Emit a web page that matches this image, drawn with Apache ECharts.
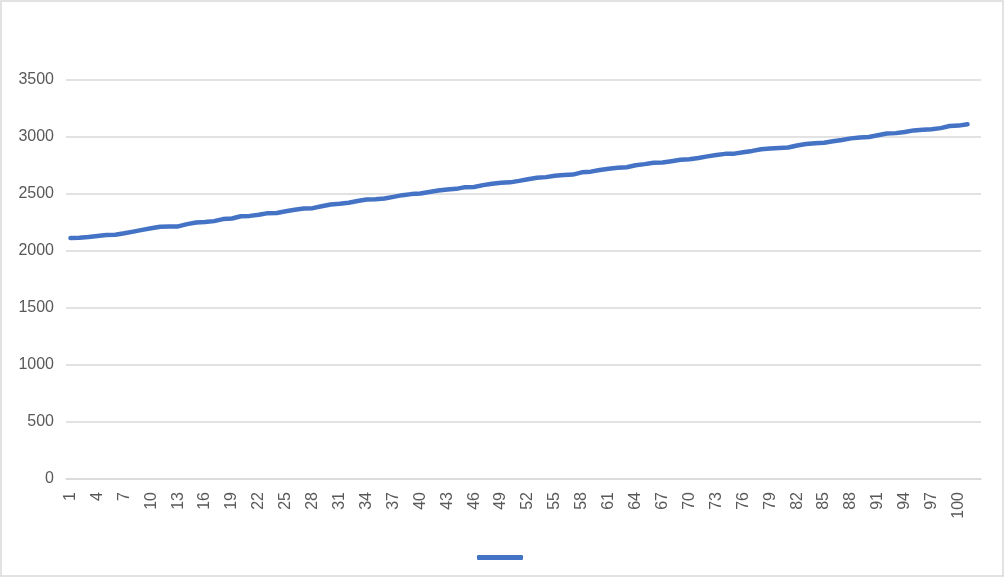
<!DOCTYPE html>
<html>
<head>
<meta charset="utf-8">
<script src="https://cdn.jsdelivr.net/npm/echarts@6/dist/echarts.min.js"></script>
<style>
html,body{margin:0;padding:0;background:#fff;}
#chart{width:1005px;height:578px;}
</style>
</head>
<body>
<div id="chart"></div>
<script>
// Category labels 1..102 (last category has no value)
var categories = [];
for (var i = 1; i <= 102; i++) categories.push(String(i));

// Series values
var values = [
  2115, 2116, 2122, 2132, 2140, 2142, 2155, 2170, 2185, 2200,
  2213, 2214, 2216, 2236, 2250, 2254, 2262, 2280, 2285, 2305,
  2308, 2318, 2332, 2333, 2348, 2362, 2373, 2376, 2392, 2408,
  2414, 2424, 2438, 2452, 2455, 2460, 2475, 2490, 2499, 2504,
  2518, 2530, 2540, 2545, 2560, 2562, 2578, 2590, 2598, 2602,
  2615, 2630, 2642, 2648, 2660, 2666, 2670, 2690, 2696, 2710,
  2722, 2730, 2735, 2752, 2762, 2774, 2776, 2788, 2800, 2804,
  2816, 2830, 2842, 2852, 2854, 2866, 2878, 2892, 2900, 2904,
  2908, 2926, 2938, 2946, 2950, 2962, 2974, 2988, 2995, 3000,
  3015, 3030, 3034, 3044, 3058, 3064, 3068, 3078, 3096, 3100,
  3112
];

var yMin = 0, yMax = 3500, yStep = 500;
var seriesName = ' ';

var chart = echarts.init(document.getElementById('chart'), null, {renderer: 'canvas'});
chart.setOption({
  animation: false,
  backgroundColor: '#ffffff',
  graphic: [{
    type: 'rect',
    shape: {x: 1, y: 1, width: 1002, height: 575},
    style: {fill: 'none', stroke: '#d9d9d9', lineWidth: 1.5},
    silent: true
  }],
  grid: {left: 66, right: 24, top: 80, bottom: 99, containLabel: false},
  legend: {
    data: [seriesName],
    left: 472,
    top: 550,
    icon: 'roundRect',
    itemWidth: 46,
    itemHeight: 5,
    textStyle: {fontSize: 1, color: '#fff'},
    selectedMode: false
  },
  xAxis: {
    type: 'category',
    data: categories,
    boundaryGap: true,
    axisLine: {lineStyle: {color: '#d9d9d9', width: 1.5}},
    axisTick: {show: false},
    axisLabel: {
      interval: 2,
      rotate: 90,
      margin: 13,
      color: '#595959',
      fontSize: 16,
      fontFamily: 'Liberation Sans, Arial, sans-serif'
    },
    splitLine: {show: false}
  },
  yAxis: {
    type: 'value',
    min: yMin,
    max: yMax,
    interval: yStep,
    axisLine: {show: false},
    axisTick: {show: false},
    axisLabel: {
      margin: 12,
      color: '#595959',
      fontSize: 16,
      fontFamily: 'Liberation Sans, Arial, sans-serif',
      formatter: function (v) { return String(v); }
    },
    splitLine: {lineStyle: {color: '#d9d9d9', width: 1.5}}
  },
  series: [{
    name: seriesName,
    type: 'line',
    data: values,
    showSymbol: false,
    symbol: 'none',
    smooth: false,
    lineStyle: {color: '#4472C4', width: 4.5, cap: 'round', join: 'round'},
    itemStyle: {color: '#4472C4'}
  }]
});
</script>
</body>
</html>
